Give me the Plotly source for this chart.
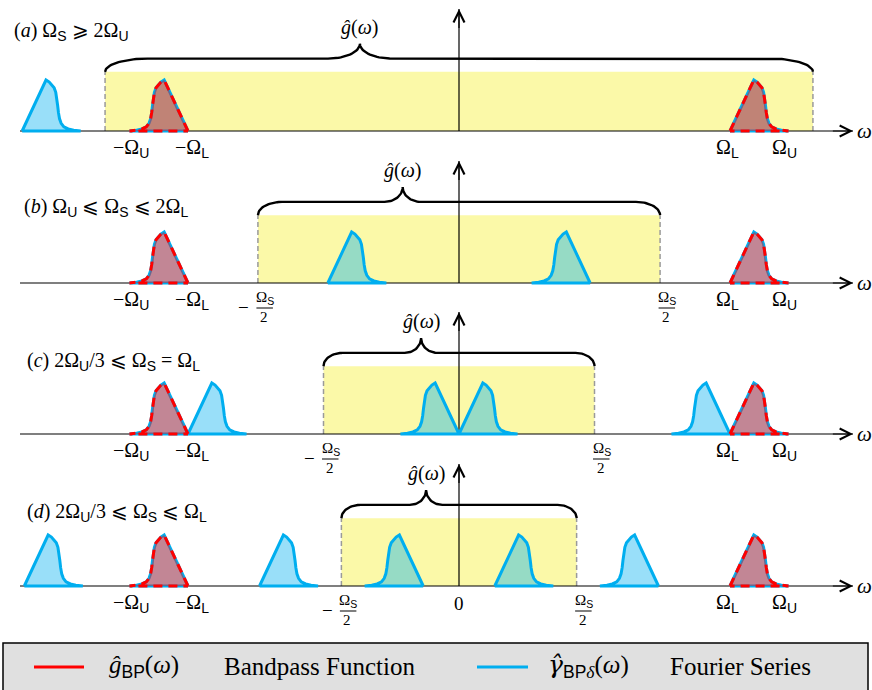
import numpy as np
import plotly.graph_objects as go

# ---------------- data ----------------
OMEGA_L = 5.0          # lower band edge (arbitrary ω units)
OMEGA_U = 6.0          # upper band edge
panel_ids = ["a", "b", "c", "d"]
omega_s = [13.06, 7.42, 5.00, 4.34]          # sampling frequency Ω_S in each panel
window_height = [1.16, 1.33, 1.33, 1.33]      # height of the ĝ(ω) window
# shape of the positive band: u in [0,1] spans Ω_L..Ω_U, h = normalised amplitude
profile_u = [0.0, 0.44, 0.50, 0.55, 0.59, 0.62, 0.64, 0.655, 0.67, 0.69, 0.72, 0.77, 0.85, 0.95, 1.08]
profile_h = [0.0, 1.00, 0.96, 0.91, 0.85, 0.76, 0.64, 0.50, 0.36, 0.24, 0.15, 0.08, 0.04, 0.015, 0.0]


def sf(t):
    return f"<span style='font-family:Liberation Sans'>{t}</span>"


panel_titles = [
    f"(<i>a</i>) Ω<sub>{sf('S')}</sub> ⩾ 2Ω<sub>{sf('U')}</sub>",
    f"(<i>b</i>) Ω<sub>{sf('U')}</sub> ⩽ Ω<sub>{sf('S')}</sub> ⩽ 2Ω<sub>{sf('L')}</sub>",
    f"(<i>c</i>) 2Ω<sub>{sf('U')}</sub>/3 ⩽ Ω<sub>{sf('S')}</sub> = Ω<sub>{sf('L')}</sub>",
    f"(<i>d</i>) 2Ω<sub>{sf('U')}</sub>/3 ⩽ Ω<sub>{sf('S')}</sub> ⩽ Ω<sub>{sf('L')}</sub>",
]
band_tick_values = [-OMEGA_U, -OMEGA_L, OMEGA_L, OMEGA_U]
band_tick_labels = [f"−Ω<sub>{sf('U')}</sub>", f"−Ω<sub>{sf('L')}</sub>",
                    f"Ω<sub>{sf('L')}</sub>", f"Ω<sub>{sf('U')}</sub>"]
band_tick_shift = [-3, 4, -3, 0]
window_label = "<i>ĝ</i>(<i>ω</i>)"
legend_labels = [f"<i>ĝ</i><sub>{sf('BP')}</sub>(<i>ω</i>)",
                 f"<span style='font-family:DejaVu Serif'><i>γ̂</i></span><sub>{sf('BP')}<i>δ</i></sub>(<i>ω</i>)"]
legend_names = ["Bandpass Function", "Fourier Series"]

# ---------------- layout constants ----------------
FIG_W, FIG_H = 872, 690
ORIGIN_PX = 459
PX_PER_OMEGA = 54.2
PX_PER_AMP = 51
baseline_px = [131, 283, 434, 586]
title_px = [(12, 31), (22, 207), (25, 361), (25, 512)]
AXIS_LEFT, AXIS_RIGHT, AXIS_TOP = -8.10, 7.27, 2.39

BLUE = "rgb(0,174,239)"
BLUE_FILL = "rgba(0,174,239,0.4)"
RED = "rgb(255,0,0)"
RED_FILL = "rgba(255,0,0,0.4)"
YELLOW = "#FBF9A8"
FONT = "Liberation Serif"

fig = go.Figure()


def band_polygon(sign, shift):
    w = [sign * (OMEGA_L + u * (OMEGA_U - OMEGA_L)) + shift for u in profile_u]
    h = list(profile_h)
    return w + [w[0]], h + [0.0]


def brace(xl, xr, base, n=24):
    width = xr - xl
    we = min(max(0.06 * width, 0.35), 0.9)
    wc = min(max(0.045 * width, 0.3), 0.6)
    d1, d2 = 0.26, 0.29
    xc = xl + 0.36 * width
    t = np.linspace(0, np.pi / 2, n)
    x1 = xl + we * (1 - np.cos(t)); y1 = base + d1 * np.sin(t)
    x2 = xc - wc + wc * np.sin(t); y2 = base + d1 + d2 * (1 - np.cos(t))
    x3 = xc + wc * (1 - np.cos(t)); y3 = base + d1 + d2 * (1 - np.sin(t))
    x4 = xr - we + we * np.sin(t); y4 = base + d1 * np.cos(t)
    return (np.concatenate([x1, x2, x3, x4]), np.concatenate([y1, y2, y3, y4]),
            xc, base + d1 + d2)


annotations = []
shapes = []
layout_axes = {}

for i, pid in enumerate(panel_ids):
    yname = "y" if i == 0 else f"y{i + 1}"
    b = baseline_px[i]
    ax_key = "yaxis" if i == 0 else f"yaxis{i + 1}"
    ax_def = dict(range=[(b - FIG_H) / PX_PER_AMP, b / PX_PER_AMP], visible=False,
                  domain=[0, 1], fixedrange=True)
    if i > 0:
        ax_def.update(overlaying="y", anchor="x")
    layout_axes[ax_key] = ax_def

    ws = omega_s[i]
    half = ws / 2
    H = window_height[i]

    # window
    fig.add_trace(go.Scatter(x=[-half, half, half, -half, -half], y=[0, 0, H, H, 0],
                             fill="toself", fillcolor=YELLOW, mode="lines",
                             line=dict(width=0), yaxis=yname, hoverinfo="skip"))
    fig.add_trace(go.Scatter(x=[-half, -half, None, half, half], y=[0, H, None, 0, H],
                             mode="lines", line=dict(color="#9a9a9a", width=1.5, dash="5px,3px"),
                             yaxis=yname, hoverinfo="skip"))
    # axes
    fig.add_trace(go.Scatter(x=[AXIS_LEFT, AXIS_RIGHT], y=[0, 0], mode="lines",
                             line=dict(color="black", width=1.2), yaxis=yname, hoverinfo="skip"))
    fig.add_trace(go.Scatter(x=[0, 0], y=[0, AXIS_TOP], mode="lines",
                             line=dict(color="black", width=1.2), yaxis=yname, hoverinfo="skip"))
    # brace
    bx, by, cx, cy = brace(-half, half, H)
    fig.add_trace(go.Scatter(x=bx, y=by, mode="lines", line=dict(color="black", width=2.4),
                             yaxis=yname, hoverinfo="skip"))
    annotations.append(dict(x=cx, y=cy, xref="x", yref=yname, text=window_label,
                            showarrow=False, yanchor="bottom", yshift=3,
                            font=dict(size=20, family=FONT)))

    # replicas
    for k in range(1, 4):
        for sign, shift in [(1, -k * ws), (-1, k * ws)]:
            w, h = band_polygon(sign, shift)
            if min(w) >= AXIS_LEFT - 0.05 and max(w) <= AXIS_RIGHT:
                fig.add_trace(go.Scatter(x=w, y=h, fill="toself", fillcolor=BLUE_FILL,
                                         mode="lines", line=dict(color=BLUE, width=3),
                                         yaxis=yname, hoverinfo="skip"))
    # original bands
    for sign in (1, -1):
        w, h = band_polygon(sign, 0.0)
        fig.add_trace(go.Scatter(x=w, y=h, fill="toself", fillcolor=BLUE_FILL,
                                 mode="lines", line=dict(color=BLUE, width=3),
                                 yaxis=yname, hoverinfo="skip"))
    for sign in (1, -1):
        w, h = band_polygon(sign, 0.0)
        fig.add_trace(go.Scatter(x=w, y=h, fill="toself", fillcolor=RED_FILL,
                                 mode="lines", line=dict(color=RED, width=3, dash="9px,6px"),
                                 yaxis=yname, hoverinfo="skip"))

    # arrowheads
    annotations.append(dict(x=AXIS_RIGHT, y=0, ax=AXIS_RIGHT - 0.4, ay=0, xref="x", yref=yname,
                            axref="x", ayref=yname, text="", showarrow=True, arrowhead=5,
                            arrowsize=1.8, arrowwidth=1.2, arrowcolor="black", standoff=0))
    annotations.append(dict(x=0, y=AXIS_TOP, ax=0, ay=AXIS_TOP - 0.4, xref="x", yref=yname,
                            axref="x", ayref=yname, text="", showarrow=True, arrowhead=5,
                            arrowsize=1.8, arrowwidth=1.2, arrowcolor="black", standoff=0))
    annotations.append(dict(x=AXIS_RIGHT, y=0, xref="x", yref=yname, text="<i>ω</i>",
                            showarrow=False, xanchor="left", xshift=2,
                            font=dict(size=21, family=FONT)))

    # band tick labels
    for v, lab, sh in zip(band_tick_values, band_tick_labels, band_tick_shift):
        annotations.append(dict(x=v, y=0, xref="x", yref=yname, text=lab, showarrow=False,
                                yanchor="middle", yshift=-17, xshift=sh,
                                font=dict(size=20, family=FONT)))
    # ±Ω_S/2 labels (stacked fraction)
    if i > 0:
        for side, xs in [(-1, 6), (1, 6)]:
            edge = side * half
            annotations.append(dict(x=edge, y=0, xref="x", yref=yname,
                                    text=f"Ω<sub>{sf('S')}</sub>", showarrow=False,
                                    yanchor="middle", yshift=-15, xshift=xs + 1,
                                    font=dict(size=15, family=FONT)))
            annotations.append(dict(x=edge, y=0, xref="x", yref=yname, text="2",
                                    showarrow=False, yanchor="middle", yshift=-34, xshift=xs,
                                    font=dict(size=15, family=FONT)))
            bar_y = -25 / PX_PER_AMP
            annotations.append(dict(x=edge + (xs + 9) / PX_PER_OMEGA, y=bar_y,
                                    ax=edge + (xs - 9) / PX_PER_OMEGA, ay=bar_y,
                                    xref="x", yref=yname, axref="x", ayref=yname, text="",
                                    showarrow=True, arrowhead=0, arrowwidth=1.1,
                                    arrowcolor="black", standoff=0, startstandoff=0))
            if side < 0:
                annotations.append(dict(x=edge, y=0, xref="x", yref=yname, text="−",
                                        showarrow=False, yanchor="middle", yshift=-24,
                                        xshift=xs - 20, font=dict(size=19, family=FONT)))
    if pid == "d":
        annotations.append(dict(x=0, y=0, xref="x", yref=yname, text="0", showarrow=False,
                                yanchor="middle", yshift=-17, font=dict(size=19, family=FONT)))

    # panel title
    tx, ty = title_px[i]
    annotations.append(dict(x=tx / FIG_W, y=1 - ty / FIG_H, xref="paper", yref="paper",
                            text=panel_titles[i], showarrow=False, xanchor="left",
                            yanchor="middle", font=dict(size=20, family=FONT)))

# ---------------- legend (drawn) ----------------
shapes.append(dict(type="rect", xref="paper", yref="paper", x0=3 / FIG_W, x1=868 / FIG_W,
                   y0=1 - 705 / FIG_H, y1=1 - 643 / FIG_H, fillcolor="#E0E0E0",
                   line=dict(color="black", width=1.5), layer="below"))
for (x0, x1), col in [((34, 84), RED), ((477, 528), BLUE)]:
    shapes.append(dict(type="line", xref="paper", yref="paper", x0=x0 / FIG_W, x1=x1 / FIG_W,
                       y0=1 - 667 / FIG_H, y1=1 - 667 / FIG_H, line=dict(color=col, width=3)))
for xpx, txt in [(107, legend_labels[0]), (222, legend_names[0]),
                 (546, legend_labels[1]), (668, legend_names[1])]:
    annotations.append(dict(x=xpx / FIG_W, y=1 - 666 / FIG_H, xref="paper", yref="paper",
                            text=txt, showarrow=False, xanchor="left", yanchor="middle",
                            font=dict(size=25, family=FONT)))

fig.update_layout(
    width=FIG_W, height=FIG_H, margin=dict(l=0, r=0, t=0, b=0),
    paper_bgcolor="white", plot_bgcolor="rgba(0,0,0,0)", showlegend=False,
    font=dict(family=FONT, color="black"),
    xaxis=dict(range=[-ORIGIN_PX / PX_PER_OMEGA, (FIG_W - ORIGIN_PX) / PX_PER_OMEGA],
               visible=False, domain=[0, 1], fixedrange=True),
    annotations=annotations, shapes=shapes, **layout_axes,
)

fig.write_html("out.html")
